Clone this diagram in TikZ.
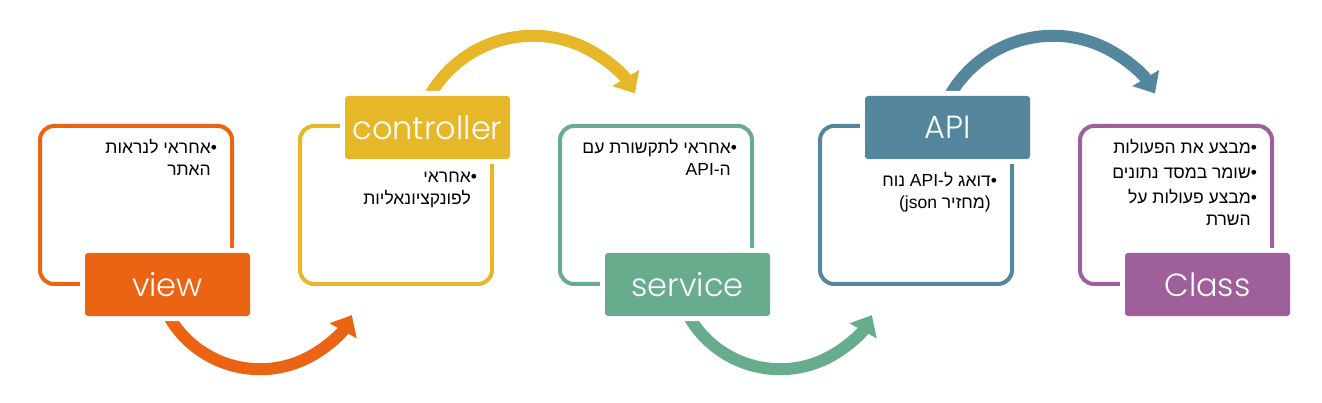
\documentclass[tikz,border=0pt]{standalone}
\usepackage{fontspec}
\usetikzlibrary{arrows.meta,backgrounds}
\TeXXeTstate=1
\newfontfamily\hebfont[Script=Hebrew]{Liberation Sans}
\newfontfamily\tagfont{Poppins}[UprightFont=* Light]
\definecolor{ViewOrange}{RGB}{234,100,19}
\definecolor{CtrlYellow}{RGB}{230,183,41}
\definecolor{ServGreen}{RGB}{104,172,142}
\definecolor{ApiBlue}{RGB}{84,134,158}
\definecolor{ClassPurple}{RGB}{158,95,155}
\newcommand{\hebbullet}{\makebox[10pt][r]{•}}
\newcommand{\hebgap}{\makebox[10pt]{}}

\begin{document}
\begin{tikzpicture}[x=1pt, y=1pt,
	frame/.style={line width=4pt, rounded corners=14pt},
	tag/.style={preaction={draw=white, line width=10pt}, fill=#1, rounded corners=3pt,
		minimum width=165pt, minimum height=63pt, inner sep=0pt, text=white,
		font=\tagfont\fontsize{32}{38}\selectfont},
	notes/.style={anchor=north east, align=right, inner sep=0pt,
		font=\hebfont\fontsize{17.5}{22}\selectfont},
	flow/.style={line width=12pt, -{Triangle[width=30pt, length=18pt]}}]
	\useasboundingbox (0,0) rectangle (1322,-403);
	
	% view
	\begin{scope}
		\draw[frame, ViewOrange] (40,-126) rectangle (232,-284);
		\node[tag=ViewOrange] (view) at (167.5,-284.5) {view};
		\node[notes] (view-notes) at (221,-139) {\beginR\hebbullet אחראי לנראות\endR\\
			\beginR\hebgap האתר\endR};
	\end{scope}
	
	% controller
	\begin{scope}[shift={(260,0)}]
		\draw[frame, CtrlYellow] (40,-126) rectangle (232,-284);
		\node[tag=CtrlYellow] (controller) at (167.5,-127.5) {controller};
		\node[notes] (controller-notes) at (221,-172) {\beginR\hebbullet אחראי\endR\\
			\beginR\hebgap לפונקציונאליות\endR};
	\end{scope}
	
	% service
	\begin{scope}[shift={(520,0)}]
		\draw[frame, ServGreen] (40,-126) rectangle (232,-284);
		\node[tag=ServGreen] (service) at (167.5,-284.5) {service};
		\node[notes] (service-notes) at (221,-139) {\beginR\hebbullet אחראי לתקשורת עם\endR\\
			\beginR\hebgap ה-\beginL API\endL\endR};
	\end{scope}
	
	% API
	\begin{scope}[shift={(780,0)}]
		\draw[frame, ApiBlue] (40,-126) rectangle (232,-284);
		\node[tag=ApiBlue] (api) at (167.5,-127.5) {API};
		\node[notes] (api-notes) at (221,-172) {\beginR\hebbullet דואג ל-\beginL API\endL{} נוח\endR\\
			\beginR\hebgap\mbox{(}מחזיר \beginL json\endL\mbox{)}\endR};
	\end{scope}
	
	% Class
	\begin{scope}[shift={(1040,0)}]
		\draw[frame, ClassPurple] (40,-126) rectangle (232,-284);
		\node[tag=ClassPurple] (class) at (167.5,-284.5) {Class};
		\node[notes] (class-notes) at (221,-139) {\beginR\hebbullet מבצע את הפעולות\endR\\[3pt]
			\beginR\hebbullet שומר במסד נתונים\endR\\[3pt]
			\beginR\hebbullet מבצע פעולות על\endR\\
			\beginR\hebgap השרת\endR};
	\end{scope}
	
	% arrows between the tags
	\begin{scope}[on background layer]
		\draw[flow, ViewOrange] ([shift={(-0.2,2.7)}]view.south) arc[start angle=208, end angle=331, radius=105];
		\draw[flow, CtrlYellow] ([shift={(0.4,-3.1)}]controller.north) arc[start angle=152, end angle=31, radius=119];
		\draw[flow, ServGreen] ([shift={(-0.2,2.7)}]service.south) arc[start angle=208, end angle=331, radius=105];
		\draw[flow, ApiBlue] ([shift={(0.4,-3.1)}]api.north) arc[start angle=152, end angle=31, radius=119];
	\end{scope}
\end{tikzpicture}
\end{document}
